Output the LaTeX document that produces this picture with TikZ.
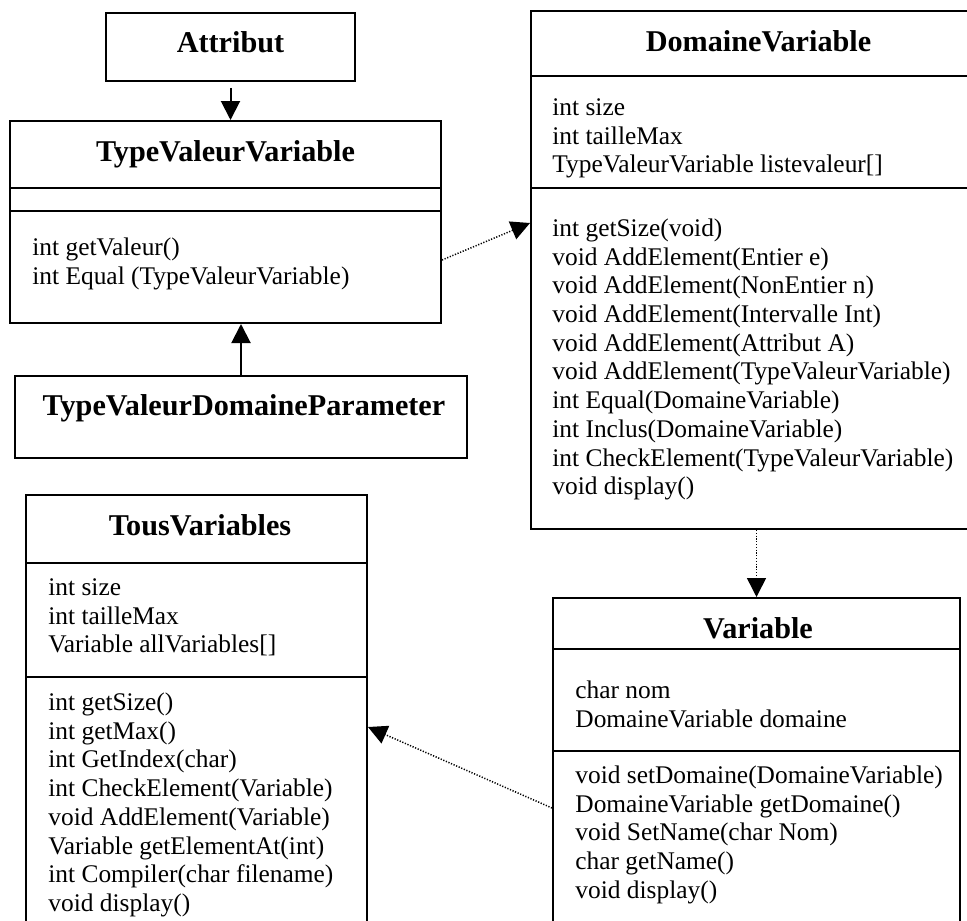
\documentclass[tikz,border=0pt]{standalone}
\usepackage{fontspec}
\setmainfont{Liberation Serif}
\usetikzlibrary{arrows.meta}
\begin{document}
\begin{tikzpicture}[x=0.5pt,y=-0.5pt,
  classbox/.style={draw, line width=1pt, rectangle, inner sep=0pt},
  classtitle/.style={font=\fontsize{15.1}{18}\selectfont\bfseries, inner sep=0pt, anchor=base},
  members/.style={font=\fontsize{12.7}{14.35}\selectfont, align=left, inner sep=0pt, anchor=north west},
  sepline/.style={line width=1pt},
  inherit/.style={line width=1pt, -{Triangle[length=9.5pt,width=9.5pt]}},
  depend/.style={line width=0.75pt, dash pattern=on 0.6pt off 0.8pt, -{Triangle[length=9.5pt,width=9.5pt]}}]

\useasboundingbox (0,0) rectangle (967,920);
\clip (0,0) rectangle (967,920);

% Attribut
\node[classbox, minimum width=124.5pt, minimum height=34pt] (attr) at (230.5,47) {};
\node[classtitle] (attrT) at (230.5,53) {Attribut};

% TypeValeurVariable
\node[classbox, minimum width=215.5pt, minimum height=101pt] (tvv) at (225.5,222) {};
\node[classtitle] (tvvT) at (225.5,161) {TypeValeurVariable};
\draw[sepline] (tvv.west |- 0,188) -- (tvv.east |- 0,188);
\draw[sepline] (tvv.west |- 0,211) -- (tvv.east |- 0,211);
\node[members] (tvvM) at (32,235) {\strut int getValeur()\\int Equal (TypeValeurVariable)};

% TypeValeurDomaineParameter
\node[classbox, minimum width=226pt, minimum height=41pt] (tvdp) at (241,417) {};
\node[classtitle] (tvdpT) at (244,415) {TypeValeurDomaineParameter};

% DomaineVariable
\node[classbox, minimum width=224.5pt, minimum height=259pt] (dv) at (755.5,270) {};
\node[classtitle] (dvT) at (758.5,52) {DomaineVariable};
\draw[sepline] (dv.west |- 0,76) -- (dv.east |- 0,76);
\draw[sepline] (dv.west |- 0,188) -- (dv.east |- 0,188);
\node[members] (dvA) at (552,95) {\strut int size\\int tailleMax\\TypeValeurVariable listevaleur[]};
\node[members] (dvM) at (552,216) {\strut int getSize(void)\\void AddElement(Entier e)\\void AddElement(NonEntier n)\\void AddElement(Intervalle Int)\\void AddElement(Attribut A)\\void AddElement(TypeValeurVariable)\\int Equal(DomaineVariable)\\int Inclus(DomaineVariable)\\int CheckElement(TypeValeurVariable)\\void display()};

% Variable
\node[classbox, minimum width=203.5pt, minimum height=171pt] (var) at (756.5,769) {};
\node[classtitle] (varT) at (758,638) {Variable};
\draw[sepline] (var.west |- 0,649) -- (var.east |- 0,649);
\draw[sepline] (var.west |- 0,751) -- (var.east |- 0,751);
\node[members] (varA) at (575,678) {\strut char nom\\DomaineVariable domaine};
\node[members] (varM) at (575,763) {\strut void setDomaine(DomaineVariable)\\DomaineVariable getDomaine()\\void SetName(char Nom)\\char getName()\\void display()};

% TousVariables
\node[classbox, minimum width=170.5pt, minimum height=222.5pt] (tv) at (196.5,717.5) {};
\node[classtitle] (tvT) at (200,535) {TousVariables};
\draw[sepline] (tv.west |- 0,563) -- (tv.east |- 0,563);
\draw[sepline] (tv.west |- 0,677) -- (tv.east |- 0,677);
\node[members] (tvA) at (48,575) {\strut int size\\int tailleMax\\Variable allVariables[]};
\node[members] (tvM) at (48,690) {\strut int getSize()\\int getMax()\\int GetIndex(char)\\int CheckElement(Variable)\\void AddElement(Variable)\\Variable getElementAt(int)\\int Compiler(char filename)\\void display()};

% Connectors
\draw[inherit] ([yshift=-3pt]attr.south) -- (attr.south |- tvv.north);
\draw[inherit] (tvdp.north) -- (tvdp.north |- tvv.south);
\draw[depend] ([yshift=-19pt]tvv.east) -- ([yshift=23.5pt]dv.west);
\draw[depend] (var.north |- dv.south) -- (var.north);
\draw[depend] ([yshift=-19.5pt]var.west) -- ([yshift=-4.75pt]tv.east);
\end{tikzpicture}
\end{document}
